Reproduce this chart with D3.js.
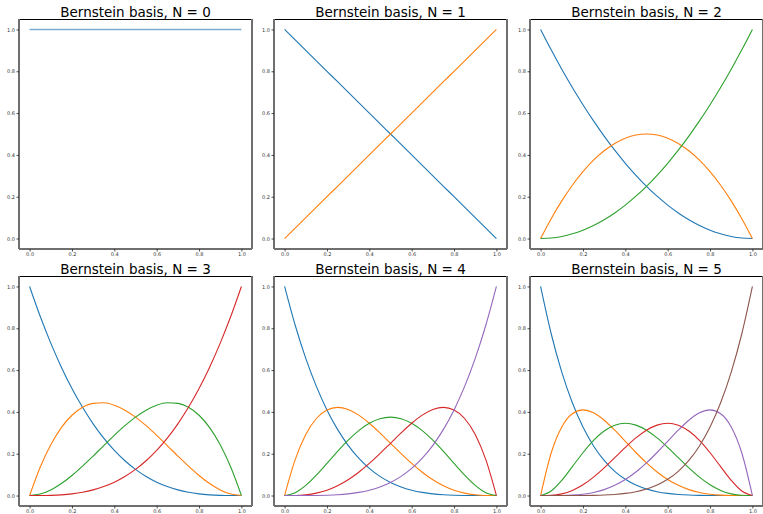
<!DOCTYPE html>
<html><head><meta charset="utf-8">
<script src="https://cdn.jsdelivr.net/npm/d3@7"></script>
<style>body{margin:0;background:#fff}svg{display:block}</style>
</head><body>
<svg id="c" width="763" height="514"></svg>
<script>
const xs = [0,0.05,0.1,0.15,0.2,0.25,0.3,0.35,0.4,0.45,0.5,0.55,0.6,0.65,0.7,0.75,0.8,0.85,0.9,0.95,1];
const titles = ["Bernstein basis, N = 0","Bernstein basis, N = 1","Bernstein basis, N = 2","Bernstein basis, N = 3","Bernstein basis, N = 4","Bernstein basis, N = 5"];
const tickValues = [0,0.2,0.4,0.6,0.8,1.0];
const colors = ["#1f77b4","#ff7f0e","#2ca02c","#d62728","#9467bd","#8c564b"];

const basisN0 = [
  [1,1,1,1,1,1,1,1,1,1,1,1,1,1,1,1,1,1,1,1,1]
];
const basisN1 = [
  [1,.95,.9,.85,.8,.75,.7,.65,.6,.55,.5,.45,.4,.35,.3,.25,.2,.15,.1,.05,0],
  [0,.05,.1,.15,.2,.25,.3,.35,.4,.45,.5,.55,.6,.65,.7,.75,.8,.85,.9,.95,1]
];
const basisN2 = [
  [1,.9025,.81,.7225,.64,.5625,.49,.4225,.36,.3025,.25,.2025,.16,.1225,.09,.0625,.04,.0225,.01,.0025,0],
  [0,.095,.18,.255,.32,.375,.42,.455,.48,.495,.5,.495,.48,.455,.42,.375,.32,.255,.18,.095,0],
  [0,.0025,.01,.0225,.04,.0625,.09,.1225,.16,.2025,.25,.3025,.36,.4225,.49,.5625,.64,.7225,.81,.9025,1]
];
const basisN3 = [
  [1,.8574,.729,.6141,.512,.4219,.343,.2746,.216,.1664,.125,.0911,.064,.0429,.027,.0156,.008,.0034,.001,.0001,0],
  [0,.1354,.243,.3251,.384,.4219,.441,.4436,.432,.4084,.375,.3341,.288,.2389,.189,.1406,.096,.0574,.027,.0071,0],
  [0,.0071,.027,.0574,.096,.1406,.189,.2389,.288,.3341,.375,.4084,.432,.4436,.441,.4219,.384,.3251,.243,.1354,0],
  [0,.0001,.001,.0034,.008,.0156,.027,.0429,.064,.0911,.125,.1664,.216,.2746,.343,.4219,.512,.6141,.729,.8574,1]
];
const basisN4 = [
  [1,.8145,.6561,.522,.4096,.3164,.2401,.1785,.1296,.0915,.0625,.041,.0256,.015,.0081,.0039,.0016,.0005,.0001,0,0],
  [0,.1715,.2916,.3685,.4096,.4219,.4116,.3845,.3456,.2995,.25,.2005,.1536,.1115,.0756,.0469,.0256,.0115,.0036,.0005,0],
  [0,.0135,.0486,.0975,.1536,.2109,.2646,.3105,.3456,.3675,.375,.3675,.3456,.3105,.2646,.2109,.1536,.0975,.0486,.0135,0],
  [0,.0005,.0036,.0115,.0256,.0469,.0756,.1115,.1536,.2005,.25,.2995,.3456,.3845,.4116,.4219,.4096,.3685,.2916,.1715,0],
  [0,0,.0001,.0005,.0016,.0039,.0081,.015,.0256,.041,.0625,.0915,.1296,.1785,.2401,.3164,.4096,.522,.6561,.8145,1]
];
const basisN5 = [
  [1,.7738,.5905,.4437,.3277,.2373,.1681,.116,.0778,.0503,.0313,.0185,.0102,.0053,.0024,.001,.0003,.0001,0,0,0],
  [0,.2036,.3281,.3915,.4096,.3955,.3602,.3124,.2592,.2059,.1563,.1128,.0768,.0488,.0284,.0146,.0064,.0022,.0005,0,0],
  [0,.0214,.0729,.1382,.2048,.2637,.3087,.3364,.3456,.3369,.3125,.2757,.2304,.1811,.1323,.0879,.0512,.0244,.0081,.0011,0],
  [0,.0011,.0081,.0244,.0512,.0879,.1323,.1811,.2304,.2757,.3125,.3369,.3456,.3364,.3087,.2637,.2048,.1382,.0729,.0214,0],
  [0,0,.0005,.0022,.0064,.0146,.0284,.0488,.0768,.1128,.1563,.2059,.2592,.3124,.3602,.3955,.4096,.3915,.3281,.2036,0],
  [0,0,0,.0001,.0003,.001,.0024,.0053,.0102,.0185,.0313,.0503,.0778,.116,.1681,.2373,.3277,.4437,.5905,.7738,1]
];

const panels = [basisN0, basisN1, basisN2, basisN3, basisN4, basisN5];
const colLeft = [19, 274, 530], rowTop = [19, 276], W = 233, H = 230;
const svg = d3.select("#c");
const font = "DejaVu Sans, sans-serif";

panels.forEach((series, i) => {
  const left = colLeft[i % 3], top = rowTop[Math.floor(i / 3)];
  const x = d3.scaleLinear().domain([-0.05, 1.05]).range([left, left + W]);
  const y = d3.scaleLinear().domain([-0.05, 1.05]).range([top + H, top]);
  const g = svg.append("g");

  const line = d3.line().x((d, j) => x(xs[j])).y(d => y(d)).curve(d3.curveMonotoneX);
  series.forEach((vals, k) => {
    g.append("path").datum(vals).attr("d", line)
      .attr("fill", "none").attr("stroke", colors[k])
      .attr("stroke-width", series.length === 1 ? 1.6 : 1.1)
      .attr("stroke-opacity", series.length === 1 ? 0.6 : 1);
  });

  // spines
  const [x0, x1] = x.range(), [y0, y1] = y.range();
  g.append("line").attr("x1", x0).attr("x2", x1).attr("y1", y1 + 0.5).attr("y2", y1 + 0.5)
    .attr("stroke", "#000").attr("stroke-width", 1);
  [[x0, y1, x0, y0], [x1, y1, x1, y0], [x0, y0, x1, y0]].forEach(s => {
    g.append("line").attr("x1", s[0]).attr("y1", s[1]).attr("x2", s[2]).attr("y2", s[3])
      .attr("stroke", "#6f6f6f").attr("stroke-width", 2);
  });

  const xa = g.append("g").attr("transform", `translate(0,${y0})`)
    .call(d3.axisBottom(x).tickValues(tickValues).tickSize(2.5).tickPadding(1).tickFormat(d3.format(".1f")));
  const ya = g.append("g").attr("transform", `translate(${x0},0)`)
    .call(d3.axisLeft(y).tickValues(tickValues).tickSize(2.5).tickPadding(1.5).tickFormat(d3.format(".1f")));
  [xa, ya].forEach(a => {
    a.select(".domain").remove();
    a.selectAll("line").attr("stroke", "#222").attr("stroke-width", 0.8);
    a.selectAll("text").attr("font-size", 5).attr("font-family", font).attr("fill", "#333");
  });

  g.append("text").attr("x", (x0 + x1) / 2).attr("y", top - 2.5)
    .attr("text-anchor", "middle").attr("font-family", font).attr("font-size", 13.5)
    .attr("fill", "#000").text(titles[i]);
});
</script>
</body></html>
